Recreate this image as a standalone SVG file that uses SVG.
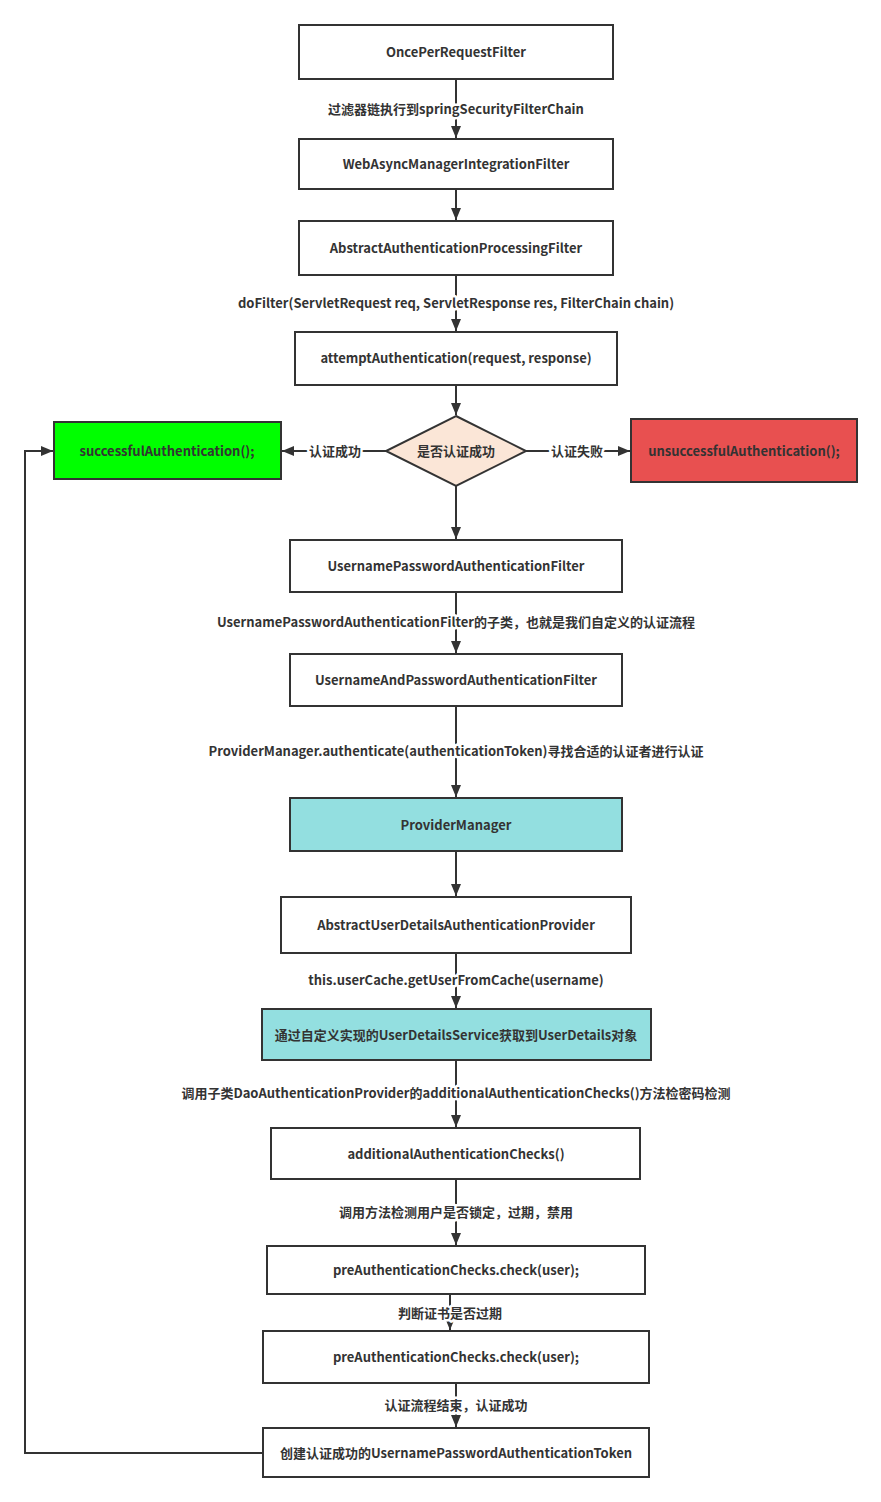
<svg xmlns="http://www.w3.org/2000/svg" width="881" height="1502" viewBox="0 0 881 1502">
<defs>
<style>
.box{fill:#fff;stroke:#333;stroke-width:2}
.t{font-family:"Noto Sans CJK SC","Microsoft YaHei",sans-serif;font-size:13px;font-weight:bold;fill:#333;text-anchor:middle;dominant-baseline:central}
.lbl{font-family:"Noto Sans CJK SC","Microsoft YaHei",sans-serif;font-size:13px;font-weight:bold;fill:#333;text-anchor:middle;dominant-baseline:central;paint-order:stroke;stroke:#fff;stroke-width:5px;stroke-linejoin:round}
.c{fill:none;stroke:#333;stroke-width:2}
</style>
<marker id="ah" viewBox="0 0 12 10" refX="12" refY="5" markerWidth="12" markerHeight="10" orient="auto" markerUnits="userSpaceOnUse">
<path d="M0,0 L12,5 L0,10 z" fill="#333"/>
</marker>
</defs>
<rect width="881" height="1502" fill="#fff"/>
<g id="connectors">
<path class="c" d="M456,79 V138" marker-end="url(#ah)"/>
<path class="c" d="M456,189 V220" marker-end="url(#ah)"/>
<path class="c" d="M456,275 V331" marker-end="url(#ah)"/>
<path class="c" d="M456,385 V415" marker-end="url(#ah)"/>
<path class="c" d="M386,451 H282" marker-end="url(#ah)"/>
<path class="c" d="M526,451 H630" marker-end="url(#ah)"/>
<path class="c" d="M456,486 V539" marker-end="url(#ah)"/>
<path class="c" d="M456,592 V653" marker-end="url(#ah)"/>
<path class="c" d="M456,706 V797" marker-end="url(#ah)"/>
<path class="c" d="M456,851 V896" marker-end="url(#ah)"/>
<path class="c" d="M456,953 V1008" marker-end="url(#ah)"/>
<path class="c" d="M456,1060 V1127" marker-end="url(#ah)"/>
<path class="c" d="M456,1179 V1245" marker-end="url(#ah)"/>
<path class="c" d="M450,1294 V1330" marker-end="url(#ah)"/>
<path class="c" d="M456,1383 V1427" marker-end="url(#ah)"/>
<path class="c" d="M263,1453 H25 V451 H53" marker-end="url(#ah)"/>
<text class="lbl" x="456" y="108">过滤器链执行到springSecurityFilterChain</text>
<text class="lbl" x="456" y="302">doFilter(ServletRequest req, ServletResponse res, FilterChain chain)</text>
<text class="lbl" x="335" y="450">认证成功</text>
<text class="lbl" x="577" y="450">认证失败</text>
<text class="lbl" x="456" y="621">UsernamePasswordAuthenticationFilter的子类，也就是我们自定义的认证流程</text>
<text class="lbl" x="456" y="750">ProviderManager.authenticate(authenticationToken)寻找合适的认证者进行认证</text>
<text class="lbl" x="456" y="979">this.userCache.getUserFromCache(username)</text>
<text class="lbl" x="456" y="1092">调用子类DaoAuthenticationProvider的additionalAuthenticationChecks()方法检密码检测</text>
<text class="lbl" x="456" y="1211">调用方法检测用户是否锁定，过期，禁用</text>
<text class="lbl" x="450" y="1312">判断证书是否过期</text>
<text class="lbl" x="456" y="1404">认证流程结束，认证成功</text>
</g>
<g id="n1"><rect class="box" x="299" y="25" width="314" height="54"/><text class="t" x="456" y="51">OncePerRequestFilter</text></g>
<g id="n2"><rect class="box" x="299" y="139" width="314" height="50"/><text class="t" x="456" y="163">WebAsyncManagerIntegrationFilter</text></g>
<g id="n3"><rect class="box" x="299" y="221" width="314" height="54"/><text class="t" x="456" y="247">AbstractAuthenticationProcessingFilter</text></g>
<g id="n4"><rect class="box" x="295" y="332" width="322" height="53"/><text class="t" x="456" y="357">attemptAuthentication(request, response)</text></g>
<g id="d1"><path d="M456,416 L526,451 L456,486 L386,451 z" fill="#fbe6d7" stroke="#333" stroke-width="2"/><text class="t" x="456" y="450">是否认证成功</text></g>
<g id="ok"><rect x="54" y="422" width="227" height="57" fill="#00ff00" stroke="#333" stroke-width="2"/><text class="t" x="167" y="450">successfulAuthentication();</text></g>
<g id="fail"><rect x="631" y="419" width="226" height="63" fill="#e85050" stroke="#333" stroke-width="2"/><text class="t" x="744" y="450">unsuccessfulAuthentication();</text></g>
<g id="n5"><rect class="box" x="290" y="540" width="332" height="52"/><text class="t" x="456" y="565">UsernamePasswordAuthenticationFilter</text></g>
<g id="n6"><rect class="box" x="290" y="654" width="332" height="52"/><text class="t" x="456" y="679">UsernameAndPasswordAuthenticationFilter</text></g>
<g id="n7"><rect x="290" y="798" width="332" height="53" fill="#93dfe0" stroke="#333" stroke-width="2"/><text class="t" x="456" y="824">ProviderManager</text></g>
<g id="n8"><rect class="box" x="281" y="897" width="350" height="56"/><text class="t" x="456" y="924">AbstractUserDetailsAuthenticationProvider</text></g>
<g id="n9"><rect x="262" y="1009" width="389" height="51" fill="#93dfe0" stroke="#333" stroke-width="2"/><text class="t" x="456" y="1034">通过自定义实现的UserDetailsService获取到UserDetails对象</text></g>
<g id="n10"><rect class="box" x="271" y="1128" width="369" height="51"/><text class="t" x="456" y="1153">additionalAuthenticationChecks()</text></g>
<g id="n11"><rect class="box" x="267" y="1246" width="378" height="48"/><text class="t" x="456" y="1269">preAuthenticationChecks.check(user);</text></g>
<g id="n12"><rect class="box" x="263" y="1331" width="386" height="52"/><text class="t" x="456" y="1356">preAuthenticationChecks.check(user);</text></g>
<g id="n13"><rect class="box" x="263" y="1428" width="386" height="49"/><text class="t" x="456" y="1452">创建认证成功的UsernamePasswordAuthenticationToken</text></g>
</svg>
